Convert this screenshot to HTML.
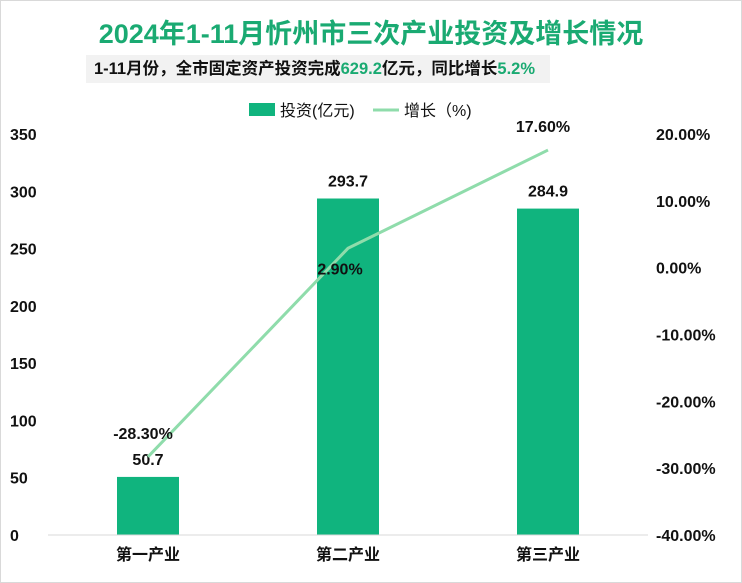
<!DOCTYPE html>
<html><head><meta charset="utf-8"><style>
body{margin:0;width:742px;height:583px;background:#fff;font-family:"Liberation Sans","Noto Sans CJK SC",sans-serif;overflow:hidden}
#frame{position:absolute;left:0;top:0;width:740px;height:581px;border:1px solid #d9d9d9}
#title{position:absolute;left:0;width:742px;top:12px;text-align:center;font-size:27px;font-weight:bold;color:#1aaa72}
#sub{position:absolute;left:86px;top:55px;width:464px;height:28px;background:#f2f2f2;font-size:16.5px;font-weight:bold;line-height:28px;text-indent:8px;color:#111;white-space:nowrap}
#sub span{color:#1aaa72}
</style></head><body>
<div id="frame"></div>
<div id="title">2024年1-11月忻州市三次产业投资及增长情况</div>
<div id="sub">1-11月份，全市固定资产投资完成<span>629.2</span>亿元，同比增长<span>5.2%</span></div>
<svg id="chart" width="742" height="583" style="position:absolute;left:0;top:0"></svg>
<script>
const categories=["第一产业","第二产业","第三产业"];
const investment=[50.7,293.7,284.9];
const growth=[-28.3,2.9,17.6];
const leftTicks=[0,50,100,150,200,250,300,350];
const rightTicks=[-40,-30,-20,-10,0,10,20];
const NS="http://www.w3.org/2000/svg";
const svg=document.getElementById('chart');
const yL=v=>535-v*(401/350);
const yR=v=>535-(v+40)*(401/60);
const xC=i=>148+i*200;
function el(t,a,txt){const e=document.createElementNS(NS,t);for(const k in a)e.setAttribute(k,a[k]);if(txt!==undefined)e.textContent=txt;svg.appendChild(e);return e;}
const F='"Liberation Sans","Noto Sans CJK SC",sans-serif';
leftTicks.forEach(v=>{const t=el('text',{x:10,y:yL(v)+6,'font-size':16,'font-weight':'bold','font-family':F,fill:'#111'},v);
});
rightTicks.forEach(v=>{const t=el('text',{x:656,y:yR(v)+6,'font-size':16,'font-weight':'bold','font-family':F,fill:'#111'},v.toFixed(2)+'%');
});
investment.forEach((v,i)=>{
const r=el('rect',{x:xC(i)-31,y:yL(v),width:62,height:535-yL(v),fill:'#10b47e'});

const t=el('text',{x:xC(i),y:yL(v)-12,'text-anchor':'middle','font-size':16,'font-weight':'bold','font-family':F,fill:'#111'},v.toFixed(1));

const c=el('text',{x:xC(i),y:560,'text-anchor':'middle','font-size':16,'font-weight':'bold','font-family':F,fill:'#111'},categories[i]);

});
const ax=el('line',{x1:48,x2:648,y1:535,y2:535,stroke:'#d9d9d9'});

const pl=el('polyline',{points:growth.map((g,i)=>xC(i)+','+yR(g)).join(' '),fill:'none',stroke:'#8fdcab','stroke-width':3});

growth.forEach((g,i)=>{const t=el('text',{x:xC(i)-5,y:yR(g)-18,'text-anchor':'middle','font-size':16,'font-weight':'bold','font-family':F,fill:'#111'},g.toFixed(2)+'%');
if(i==1){t.setAttribute('y',yR(g)+26);t.setAttribute('x',xC(i)-8);}
});
const lr=el('rect',{x:249,y:103,width:26,height:13,fill:'#10b47e'});

const lt=el('text',{x:280,y:116,'font-size':16,'font-family':F,fill:'#111'},'投资(亿元)');

const ll=el('line',{x1:373,x2:399,y1:110,y2:110,stroke:'#8fdcab','stroke-width':3});

const lt2=el('text',{x:404,y:116,'font-size':16,'font-family':F,fill:'#111'},'增长（%)');

</script>
</body></html>
